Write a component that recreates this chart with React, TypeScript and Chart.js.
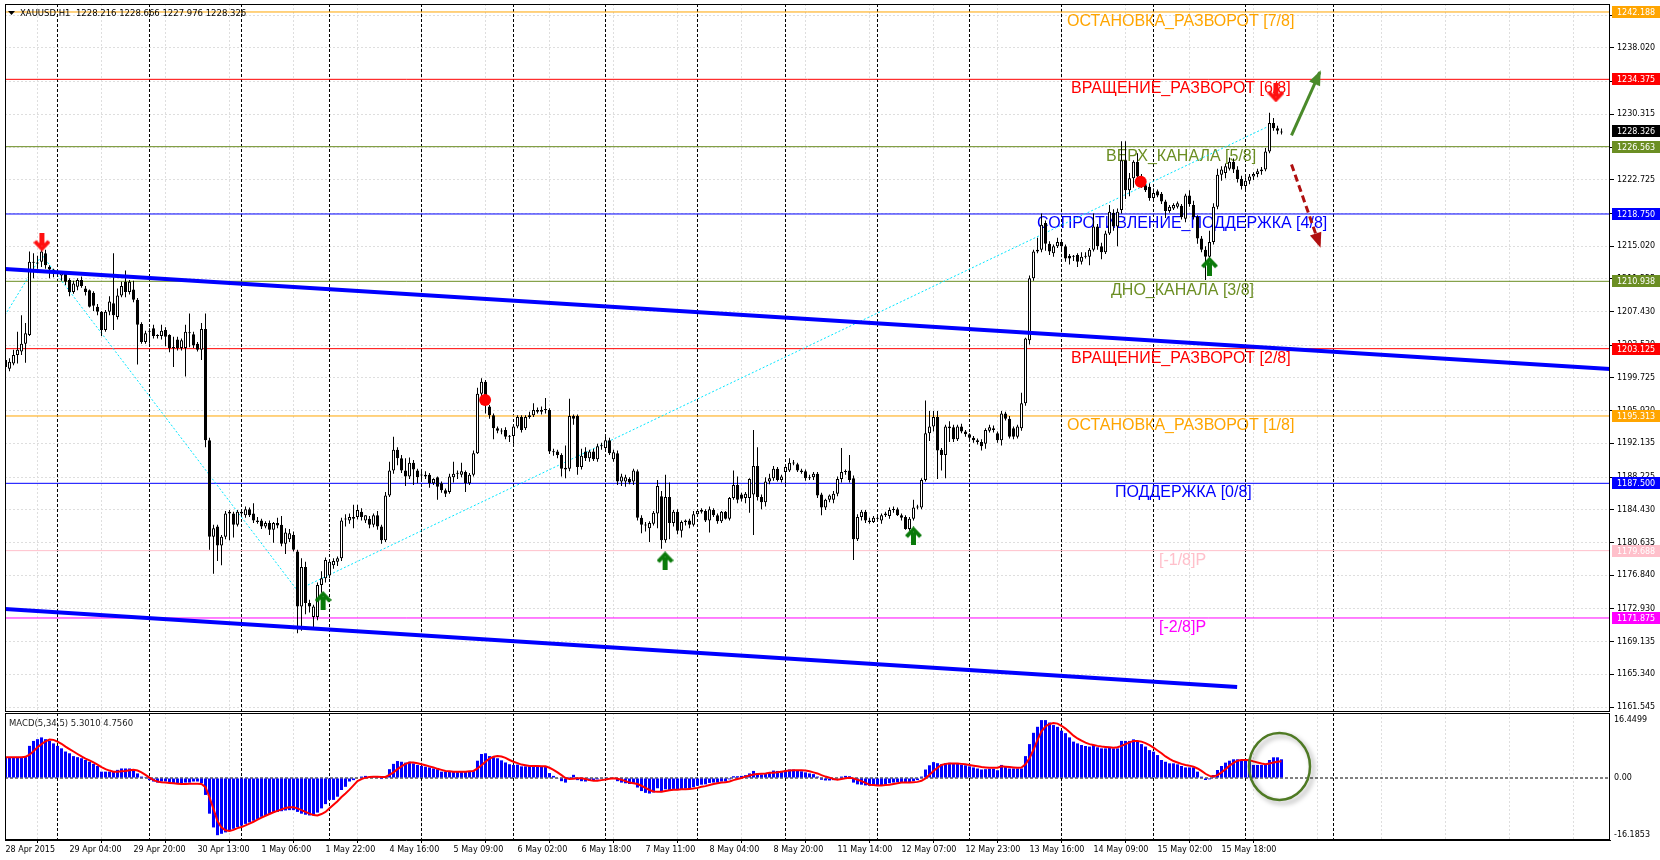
import React, { useEffect, useRef } from "react";
import { Chart, registerables } from "chart.js";

Chart.register(...registerables);

// ---------------- DATA ----------------
// hourly candles [open, high, low, close], one array per trading day
const apr28 = [
  [1201.8,1202.2,1199.8,1201.0],[1200.8,1202.0,1200.5,1201.6],[1201.4,1203.0,1201.2,1202.4],[1202.4,1205.1,1201.4,1203.0],
  [1202.8,1207.0,1202.4,1203.7],[1203.7,1206.1,1201.5,1204.9],[1204.7,1214.4,1204.6,1213.2],[1213.2,1214.2,1211.3,1213.1],
  [1213.1,1213.9,1212.4,1213.0],[1213.2,1214.6,1212.6,1214.4],[1214.2,1214.6,1212.4,1212.8],[1212.6,1212.8,1211.3,1212.3],
  [1212.3,1212.4,1211.4,1212.1],
];
const apr29 = [
  [1212.1,1212.3,1211.5,1211.9],[1211.6,1212.0,1211.0,1211.9],[1211.8,1212.1,1210.5,1210.9],[1211.1,1211.3,1209.2,1209.7],
  [1209.7,1211.0,1209.5,1210.7],[1210.3,1211.3,1209.9,1211.1],[1211.1,1211.5,1210.2,1210.4],[1210.1,1210.4,1209.3,1209.7],
  [1209.9,1210.0,1207.9,1208.0],[1209.6,1209.8,1207.5,1208.1],[1208.0,1208.3,1207.0,1207.4],[1207.4,1207.5,1204.6,1205.3],
  [1205.3,1207.6,1205.1,1207.4],[1207.4,1209.2,1207.0,1208.6],[1208.4,1214.2,1205.3,1207.0],[1206.8,1210.1,1206.5,1209.3],
  [1209.3,1210.9,1209.1,1210.4],[1210.9,1212.2,1209.1,1209.7],[1209.7,1211.1,1209.4,1210.9],[1210.0,1211.0,1208.5,1208.8],
  [1208.8,1209.0,1201.3,1205.9],[1206.0,1206.2,1203.7,1203.9],[1203.9,1205.2,1203.7,1204.9],
];
const apr30 = [
  [1205.1,1205.5,1203.7,1205.2],[1205.5,1205.9,1204.3,1204.6],[1204.6,1204.8,1204.3,1204.6],[1204.6,1205.9,1204.2,1205.2],
  [1205.3,1205.6,1203.4,1204.5],[1204.7,1204.8,1202.7,1203.2],[1203.2,1204.5,1201.0,1203.3],[1204.2,1204.5,1202.9,1203.2],
  [1203.2,1204.3,1202.9,1204.1],[1203.2,1205.9,1199.9,1205.1],[1204.9,1207.2,1203.3,1205.0],[1204.8,1205.1,1203.2,1203.5],
  [1203.7,1203.9,1202.8,1203.0],[1203.0,1206.1,1201.8,1205.4],[1205.4,1207.2,1191.7,1192.5],[1192.5,1192.8,1179.8,1181.3],
  [1181.3,1182.7,1177.0,1182.3],[1182.5,1182.7,1178.5,1180.3],[1180.3,1181.5,1178.0,1181.3],[1181.3,1184.3,1181.0,1184.0],
  [1184.0,1184.4,1180.9,1184.2],[1184.0,1184.2,1181.2,1182.7],[1182.7,1184.4,1182.5,1184.2],
];
const may1 = [
  [1184.2,1184.5,1183.8,1184.0],[1183.8,1184.8,1183.5,1184.5],[1184.5,1184.7,1183.6,1183.8],[1184.0,1185.2,1182.9,1183.2],
  [1183.2,1183.6,1182.8,1183.0],[1183.2,1183.4,1182.2,1182.5],[1182.5,1183.1,1182.3,1182.9],[1182.9,1183.2,1181.5,1182.1],
  [1182.1,1183.0,1180.6,1182.9],[1182.9,1183.5,1182.3,1182.6],[1182.7,1183.7,1180.2,1180.5],[1180.5,1182.3,1179.3,1181.8],
  [1181.0,1182.2,1180.7,1181.7],[1181.5,1181.9,1179.6,1179.8],[1179.6,1179.8,1170.1,1173.2],[1173.2,1178.8,1170.4,1177.8],
  [1177.8,1178.4,1172.3,1173.6],[1173.6,1174.0,1172.5,1173.2],[1172.0,1173.4,1170.8,1173.2],[1172.0,1176.0,1171.6,1175.7],
  [1175.7,1177.3,1174.8,1176.5],[1176.5,1178.9,1176.0,1178.6],
];
const may4 = [
  [1176.8,1178.6,1176.5,1178.4],[1178.0,1178.8,1177.6,1178.5],[1178.4,1179.0,1177.9,1178.8],[1178.8,1183.5,1178.5,1183.2],
  [1183.3,1183.9,1182.5,1183.4],[1183.2,1184.0,1182.8,1183.6],[1183.4,1185.0,1182.3,1183.6],[1183.6,1185.0,1183.3,1184.4],
  [1184.2,1184.6,1183.2,1183.6],[1183.2,1183.8,1182.9,1183.8],[1183.4,1183.7,1182.3,1182.7],[1182.7,1184.0,1182.4,1183.8],
  [1183.8,1184.3,1182.1,1182.5],[1182.5,1182.7,1180.5,1180.9],[1180.9,1186.5,1180.7,1186.1],[1186.1,1190.0,1185.9,1189.0],
  [1189.0,1192.9,1188.6,1191.4],[1191.4,1191.7,1189.6,1190.4],[1190.4,1190.8,1188.7,1189.0],[1189.0,1190.4,1187.2,1188.3],
  [1188.3,1190.5,1188.0,1189.9],[1189.9,1190.2,1187.3,1189.1],[1189.0,1189.2,1187.5,1188.2],
];
const may5 = [
  [1188.4,1188.9,1187.9,1188.5],[1188.5,1188.9,1188.0,1188.3],[1188.5,1188.7,1187.0,1187.5],[1187.5,1188.1,1187.3,1188.0],
  [1188.2,1188.3,1185.6,1187.1],[1187.5,1187.7,1186.4,1186.7],[1186.7,1186.9,1185.9,1186.3],[1186.5,1188.6,1186.3,1188.3],
  [1188.2,1190.0,1187.6,1188.6],[1188.6,1189.0,1188.0,1188.7],[1188.5,1189.9,1188.2,1188.9],[1188.8,1189.0,1186.5,1187.5],
  [1187.5,1188.7,1187.3,1188.5],[1188.5,1191.3,1188.3,1191.0],[1191.0,1198.6,1190.9,1197.9],[1197.9,1199.7,1197.5,1199.3],
  [1199.3,1199.5,1195.6,1196.6],[1196.4,1196.6,1195.0,1195.4],[1195.4,1195.6,1192.6,1193.9],[1193.9,1194.1,1193.3,1193.6],
  [1193.6,1193.9,1193.2,1193.5],[1193.7,1194.0,1192.6,1192.9],[1192.9,1193.1,1192.3,1192.9],
];
const may6 = [
  [1193.0,1194.2,1192.1,1194.1],[1194.1,1195.4,1193.9,1195.2],[1195.2,1195.4,1193.4,1193.7],[1193.9,1195.4,1193.7,1195.2],
  [1195.2,1195.8,1195.0,1195.4],[1195.4,1196.8,1195.2,1196.0],[1196.0,1196.3,1195.6,1195.8],[1195.8,1196.4,1195.5,1196.0],
  [1196.0,1197.4,1195.6,1196.0],[1196.0,1196.2,1190.9,1191.2],[1191.2,1191.5,1190.7,1191.1],[1191.2,1191.4,1190.4,1190.8],
  [1190.8,1191.0,1188.3,1189.2],[1189.1,1191.9,1188.1,1189.3],[1189.2,1197.3,1188.9,1195.3],[1195.3,1195.5,1194.3,1195.0],
  [1195.3,1195.5,1188.5,1189.4],[1189.4,1191.5,1189.1,1190.7],[1191.2,1191.7,1190.1,1190.4],[1190.4,1191.4,1190.0,1191.2],
  [1191.2,1191.5,1190.1,1190.3],[1190.3,1192.1,1190.0,1191.8],[1191.8,1192.2,1191.4,1191.9],
];
const may7 = [
  [1191.6,1192.9,1191.2,1192.5],[1192.5,1192.8,1190.8,1191.0],[1190.3,1191.4,1190.0,1191.1],[1191.0,1191.3,1187.3,1187.7],
  [1187.7,1188.6,1187.2,1188.3],[1187.7,1188.5,1187.1,1188.2],[1188.0,1188.2,1187.4,1187.6],[1187.7,1189.2,1187.3,1189.0],
  [1188.9,1189.1,1183.2,1183.5],[1183.5,1183.8,1181.7,1182.7],[1182.7,1183.0,1181.9,1182.6],[1182.3,1183.1,1180.7,1182.9],
  [1182.8,1184.3,1182.6,1184.1],[1184.0,1187.9,1182.3,1187.2],[1186.0,1186.6,1179.9,1180.9],[1180.9,1188.5,1180.6,1185.9],
  [1185.9,1187.6,1181.0,1182.9],[1182.9,1184.4,1182.5,1184.2],[1184.2,1184.5,1181.6,1182.0],[1182.0,1183.2,1181.2,1183.0],
  [1183.0,1183.3,1182.6,1183.2],[1183.2,1183.4,1182.3,1182.7],[1182.7,1184.3,1182.5,1183.9],
];
const may8 = [
  [1183.9,1184.5,1183.6,1184.3],[1184.2,1184.6,1184.0,1184.4],[1184.3,1184.5,1183.0,1183.2],[1183.2,1184.8,1181.8,1184.5],
  [1184.4,1184.6,1183.6,1183.8],[1183.8,1184.0,1182.8,1183.1],[1183.1,1184.3,1182.9,1184.2],[1184.2,1184.3,1183.3,1183.4],
  [1183.4,1185.9,1183.2,1185.8],[1185.8,1189.0,1185.6,1187.3],[1187.3,1188.3,1185.2,1185.6],[1186.2,1186.4,1185.4,1185.7],
  [1185.8,1186.5,1185.2,1186.3],[1185.8,1188.1,1184.1,1188.0],[1186.2,1193.7,1181.5,1189.5],[1189.5,1191.7,1185.5,1185.9],
  [1185.9,1186.2,1184.5,1185.3],[1185.3,1188.2,1184.8,1187.7],[1187.7,1188.6,1187.4,1188.1],[1188.1,1189.5,1187.8,1189.2],
  [1189.2,1189.4,1187.7,1187.9],[1187.9,1188.5,1187.6,1188.3],
];
const may11 = [
  [1188.8,1189.6,1187.5,1189.4],[1189.0,1190.4,1188.8,1189.9],[1189.9,1190.2,1189.6,1189.8],[1189.7,1189.9,1188.8,1189.0],
  [1189.0,1189.2,1188.6,1188.8],[1188.9,1189.1,1187.8,1188.1],[1188.1,1188.5,1187.9,1188.2],[1188.2,1188.8,1187.9,1188.6],
  [1188.6,1188.8,1185.8,1186.1],[1186.2,1186.4,1183.8,1184.7],[1184.7,1185.7,1184.4,1185.6],[1185.6,1186.2,1185.3,1186.1],
  [1185.6,1186.6,1185.2,1186.3],[1186.3,1188.3,1186.0,1188.0],[1188.0,1191.6,1187.6,1188.8],[1188.8,1189.1,1188.5,1188.9],
  [1189.0,1190.8,1187.6,1187.9],[1188.1,1188.4,1178.6,1181.0],[1181.0,1183.9,1180.8,1183.6],[1183.6,1184.4,1183.2,1184.2],
  [1184.2,1184.4,1182.9,1183.2],[1183.2,1183.5,1182.8,1183.0],[1183.0,1183.7,1182.9,1183.5],
];
const may12 = [
  [1183.4,1183.8,1183.1,1183.4],[1183.2,1184.0,1182.8,1183.8],[1183.8,1184.2,1183.6,1184.0],[1183.7,1184.7,1183.4,1184.4],
  [1184.4,1184.8,1184.1,1184.5],[1184.5,1184.7,1183.7,1183.8],[1183.8,1184.0,1183.2,1183.5],[1183.6,1183.8,1182.1,1182.2],
  [1182.2,1183.6,1182.0,1183.4],[1183.4,1185.6,1183.2,1184.7],[1184.7,1185.0,1184.5,1184.8],[1184.7,1188.1,1184.5,1187.9],
  [1187.9,1197.1,1187.7,1193.3],[1193.3,1195.9,1192.4,1194.1],[1194.1,1195.9,1193.5,1195.2],[1195.2,1195.9,1188.0,1191.3],
  [1191.4,1191.6,1189.0,1190.8],[1190.8,1194.3,1188.1,1194.1],[1194.1,1194.7,1192.3,1193.9],[1194.0,1194.3,1192.3,1192.6],
  [1192.6,1194.3,1192.4,1194.1],[1194.1,1194.4,1193.3,1193.5],[1193.5,1193.7,1192.9,1193.2],
];
const may13 = [
  [1193.2,1193.3,1192.6,1192.8],[1192.8,1193.0,1192.2,1192.5],[1192.5,1192.7,1192.0,1192.3],[1192.3,1192.6,1191.3,1191.8],
  [1192.1,1193.9,1191.5,1193.7],[1193.6,1194.3,1193.4,1194.0],[1193.9,1194.2,1193.4,1193.7],[1193.3,1193.5,1192.2,1192.5],
  [1192.5,1195.9,1191.9,1195.6],[1195.6,1195.8,1194.8,1195.0],[1195.0,1195.3,1192.7,1192.9],[1193.9,1194.1,1192.6,1192.9],
  [1192.9,1194.3,1192.7,1194.1],[1193.9,1198.0,1193.6,1196.8],[1196.8,1204.4,1196.5,1204.3],[1204.1,1211.6,1203.6,1211.3],
  [1211.3,1214.6,1211.0,1214.4],[1214.4,1216.0,1214.2,1214.6],[1214.6,1218.8,1214.3,1217.5],[1217.7,1218.0,1214.5,1215.3],
  [1215.3,1215.6,1214.0,1214.4],[1214.2,1215.2,1213.8,1215.0],[1215.0,1216.0,1214.8,1215.5],
];
const may14 = [
  [1215.5,1215.8,1214.6,1215.0],[1215.0,1215.2,1213.2,1213.6],[1213.9,1214.1,1212.9,1213.6],[1213.8,1214.0,1213.3,1213.9],
  [1214.0,1214.2,1212.6,1213.2],[1213.2,1214.3,1212.9,1213.8],[1213.8,1214.3,1213.6,1213.9],[1213.8,1214.8,1212.8,1214.6],
  [1214.6,1218.8,1214.4,1217.3],[1217.3,1217.6,1214.6,1215.0],[1215.0,1215.4,1213.5,1214.3],[1214.3,1216.8,1214.1,1216.5],
  [1216.5,1219.8,1216.3,1219.0],[1218.9,1219.3,1216.8,1217.3],[1217.3,1219.4,1215.0,1219.0],[1219.2,1227.2,1218.8,1225.0],
  [1225.0,1227.2,1220.5,1221.5],[1221.5,1223.5,1220.8,1222.9],[1222.9,1225.0,1221.8,1224.8],[1224.8,1225.8,1222.8,1223.1],
  [1223.1,1223.4,1221.8,1222.1],[1222.1,1222.4,1221.3,1221.5],[1221.9,1222.3,1220.3,1220.6],
];
const may15 = [
  [1220.6,1221.7,1220.4,1221.2],[1221.4,1221.6,1220.7,1220.9],[1221.1,1221.3,1219.9,1220.2],[1220.2,1220.4,1218.3,1219.1],
  [1219.1,1219.8,1218.9,1219.6],[1219.4,1220.0,1219.2,1219.8],[1219.6,1220.2,1219.4,1220.0],[1219.7,1219.9,1218.1,1218.4],
  [1218.2,1221.1,1217.8,1220.9],[1220.9,1221.5,1219.6,1219.9],[1219.8,1220.3,1218.1,1218.4],[1218.4,1218.6,1215.3,1215.9],
  [1215.9,1216.2,1214.3,1214.6],[1214.6,1215.0,1211.1,1213.8],[1213.8,1216.8,1213.6,1215.5],[1215.5,1220.0,1215.2,1219.6],
  [1219.6,1224.0,1219.3,1223.3],[1223.3,1224.3,1222.6,1223.9],[1223.5,1224.6,1222.9,1224.3],[1224.0,1225.3,1223.8,1224.8],
  [1224.8,1225.2,1223.5,1223.9],[1223.9,1224.3,1222.4,1222.8],[1222.8,1223.2,1221.6,1222.0],
];
const may18 = [
  [1222.0,1223.0,1221.5,1222.6],[1222.6,1223.4,1222.2,1223.1],[1223.1,1223.6,1222.7,1223.4],[1223.4,1224.0,1223.0,1223.7],
  [1223.7,1224.2,1223.3,1223.9],[1223.9,1226.4,1223.7,1226.0],[1226.0,1230.5,1225.8,1229.3],[1229.3,1229.9,1228.4,1228.7],
  [1228.7,1229.0,1228.0,1228.4],[1228.216,1228.666,1227.976,1228.326],
];

// MACD(5,34,5) main (histogram) and signal, read per bar
const macdHistA = [
  5.9,5.9,5.8,5.8,5.9,6.0,9.1,10.5,11.0,11.5, 11.0,10.5,9.8,9.1,8.4,7.5,7.0,6.2,5.9,5.6,
  5.1,4.6,4.0,3.4,1.8,1.8,1.8,1.8,2.3,2.7, 2.7,2.7,2.3,1.3,0.4,0.05,-0.6,-1.0,-1.3,-1.0,
  -1.0,-1.3,-1.7,-1.7,-1.7,-1.3,-1.3,-1.0,-1.0,-1.5, -4.8,-10.1,-14.0,-16.2,-15.8,-15.4,-14.9,-14.4,-13.9,-13.5,
  -13.0,-12.6,-12.1,-11.6,-11.0,-10.6,-10.2,-9.9,-9.6,-9.4, -9.2,-9.1,-9.1,-9.6,-10.1,-10.4,-10.6,-10.6,-9.8,-8.6,
];
const macdHistB = [
  -7.4,-6.2,-6.2,-5.3,-3.4,-2.5,-1.0,-0.6,0.0,0.4, 0.6,0.4,0.4,0.4,-0.3,0.4,2.5,4.0,4.8,4.6,
  4.35,4.6,4.15,3.7,3.4,3.2,3.0,2.7,2.5,1.8, 1.8,1.8,1.8,1.8,1.8,1.8,1.8,2.1,4.9,6.8,
  7.0,6.2,5.9,5.6,5.0,4.4,3.9,3.7,3.8,3.3, 3.3,3.3,3.4,3.3,3.2,3.1,1.4,0.6,-0.1,-0.9,
  -1.3,0.3,0.9,-0.6,-0.9,-1.0,-0.8,-0.8,-0.4,-0.1, 0.2,0.0,0.0,-0.9,-1.3,-1.5,-1.7,-1.4,-2.7,-3.7,
];
const macdHistC = [
  -4.2,-4.4,-4.1,-2.9,-4.0,-3.2,-3.4,-3.1,-3.3,-3.2, -3.0,-2.9,-2.6,-2.2,-1.9,-1.8,-1.4,-1.3,-1.3,-1.0,
  -1.0,-0.4,0.5,0.5,0.6,0.8,1.3,2.0,1.4,1.0, 1.4,1.7,2.1,2.0,2.0,2.2,2.4,2.4,2.2,1.9,
  1.6,1.3,1.1,0.4,-0.5,-0.7,-0.7,-0.6,-0.1,0.4, 0.6,0.5,-1.3,-1.8,-1.9,-2.1,-2.2,-2.2,-2.1,-2.0,
  -1.8,-1.5,-1.3,-1.2,-1.2,-1.4,-1.3,-0.9,-0.6,0.4, 2.4,3.6,4.5,4.2,3.9,4.2,4.3,4.0,4.0,3.8,
];
const macdHistD = [
  3.6,3.3,3.0,2.7,2.4,2.5,2.6,2.6,2.2,3.7, 3.2,2.7,2.7,2.7,2.7,6.2,9.6,12.8,14.5,16.4,
  16.4,15.7,15.0,14.5,13.4,12.7,11.5,10.3,9.8,9.35, 9.07,8.9,9.35,8.7,8.4,8.4,8.7,8.4,8.4,10.5,
  10.5,10.5,10.95,10.5,9.6,8.9,7.9,7.46,6.5,5.1, 4.6,4.15,4.15,3.87,3.4,3.0,3.0,3.0,1.8,0.38,
  -0.57,-0.38,0.85,2.27,3.4,4.35,4.9,5.3,5.3,5.1, 5.1,4.9,3.7,3.7,3.7,3.7,5.1,5.86,5.86,5.301,
];
const macdSignalA = [
  5.9,5.9,5.9,5.9,5.9,6.0,6.6,7.6,8.7,9.6, 10.4,10.9,10.8,10.3,9.7,8.9,8.2,7.5,6.8,6.1,
  5.5,5.0,4.4,3.8,3.1,2.5,2.1,1.8,1.8,1.9, 2.0,2.2,2.3,2.1,1.6,0.9,0.1,-0.6,-1.0,-1.2,
  -1.3,-1.4,-1.5,-1.6,-1.7,-1.7,-1.6,-1.6,-1.6,-1.7, -2.6,-5.5,-8.8,-12.2,-14.0,-14.8,-15.0,-14.7,-14.2,-13.9,
  -13.4,-12.9,-12.4,-11.8,-11.2,-10.7,-10.2,-9.7,-9.3,-8.9, -8.5,-8.3,-8.3,-8.6,-9.1,-9.6,-10.1,-10.5,-10.6,-10.2,
];
const macdSignalB = [
  -9.6,-8.6,-7.6,-6.6,-5.4,-4.4,-3.3,-2.1,-0.9,-0.3, 0.1,0.3,0.35,0.38,0.3,0.3,0.9,1.6,2.5,3.3,
  4.0,4.4,4.4,4.2,3.9,3.6,3.3,3.0,2.6,2.3, 2.0,1.9,1.8,1.8,1.8,1.8,1.9,2.0,2.7,3.6,
  4.6,5.5,6.0,6.2,6.1,5.7,5.1,4.6,4.2,3.8, 3.6,3.4,3.4,3.4,3.3,3.3,2.9,2.3,1.6,0.8,
  0.0,-0.3,-0.2,-0.1,-0.1,-0.3,-0.6,-0.8,-0.8,-0.6, -0.4,-0.2,-0.1,-0.2,-0.5,-0.9,-1.3,-1.5,-1.7,-2.2,
];
const macdSignalC = [
  -2.8,-3.4,-3.8,-3.9,-3.9,-3.7,-3.5,-3.3,-3.3,-3.2, -3.2,-3.1,-3.0,-2.8,-2.5,-2.3,-2.0,-1.7,-1.5,-1.3,
  -1.2,-1.0,-0.6,-0.3,0.0,0.4,0.7,1.0,1.1,1.2, 1.3,1.5,1.5,1.6,1.8,2.0,2.1,2.2,2.2,2.2,
  2.1,1.9,1.6,1.3,0.8,0.4,0.1,-0.3,-0.5,-0.3, -0.1,0.1,-0.1,-0.5,-0.9,-1.4,-1.9,-2.0,-2.1,-2.1,
  -2.0,-1.9,-1.7,-1.5,-1.3,-1.3,-1.3,-1.2,-1.1,-0.8, -0.1,0.9,2.0,2.9,3.7,4.0,4.1,4.1,4.1,4.0,
];
const macdSignalD = [
  3.9,3.7,3.5,3.3,3.1,3.0,2.9,2.9,2.9,3.3, 3.2,3.1,3.0,2.9,3.0,3.9,5.6,8.0,10.8,13.2,
  14.6,15.3,15.6,15.4,14.8,14.0,13.0,12.0,11.2,10.6, 10.0,9.6,9.35,9.1,8.9,8.8,8.7,8.6,8.7,9.1,
  9.6,10.1,10.5,10.5,10.3,9.9,9.3,8.6,7.8,7.0, 6.1,5.4,4.8,4.4,4.0,3.7,3.5,3.2,2.7,2.0,
  1.2,0.6,0.4,0.8,1.6,2.5,3.5,4.3,4.9,5.1, 5.1,5.0,4.7,4.4,4.1,3.9,4.1,4.4,4.6,4.756,
];

const timeLabels = [
  "28 Apr 2015","29 Apr 04:00","29 Apr 20:00","30 Apr 13:00","1 May 06:00","1 May 22:00","4 May 16:00",
  "5 May 09:00","6 May 02:00","6 May 18:00","7 May 11:00","8 May 04:00","8 May 20:00","11 May 14:00",
  "12 May 07:00","12 May 23:00","13 May 16:00","14 May 09:00","15 May 02:00","15 May 18:00",
];
const daySeparatorBars = [13, 36, 59, 81, 104, 127, 150, 173, 195, 218, 241, 264, 287, 310, 332];
const priceTicks = [
  1161.545,1165.340,1169.135,1172.930,1176.840,1180.635,1184.430,1188.225,1192.135,1195.920,1199.725,
  1203.530,1207.430,1211.225,1215.020,1218.830,1222.725,1226.520,1230.315,1234.110,1238.020,1241.815,
];
const levelValues = [1242.188,1234.375,1226.563,1218.750,1210.938,1203.125,1195.313,1187.500,1179.688,1171.875];
const levelNames = [
  "ОСТАНОВКА_РАЗВОРОТ [7/8]","ВРАЩЕНИЕ_РАЗВОРОТ [6/8]","ВЕРХ_КАНАЛА [5/8]","СОПРОТИВЛЕНИЕ_ПОДДЕРЖКА [4/8]",
  "ДНО_КАНАЛА [3/8]","ВРАЩЕНИЕ_РАЗВОРОТ [2/8]","ОСТАНОВКА_РАЗВОРОТ [1/8]","ПОДДЕРЖКА [0/8]","[-1/8]P","[-2/8]P",
];
const currentPrice = 1228.326;
const headerText = "XAUUSD,H1  1228.216 1228.666 1227.976 1228.326";
const macdTitle = "MACD(5,34,5) 5.3010 4.7560";
const macdTicks = [16.4499, 0, -16.1853];
const macdTickLabels = ["16.4499", "0.00", "-16.1853"];

// chart objects (bar index, price)
const upperTrendBars = [-0.125, 401.125];
const upperTrendPrices = [1212.37, 1200.77];
const lowerTrendBars = [-0.125, 307.9];
const lowerTrendPrices = [1172.92, 1163.87];
const zigzagBars = [-0.125, 9.1, 72.9, 316.4];
const zigzagPrices = [1207.0, 1214.0, 1175.1, 1229.07];
const sellArrowBars = [9.1, 317.6];
const sellArrowPrices = [1215.5, 1232.8];
const buyArrowBars = [79.4, 164.9, 227.0, 301.0];
const buyArrowPrices = [1173.9, 1178.5, 1181.4, 1212.7];
const dotBars = [119.9, 283.8];
const dotPrices = [1197.17, 1222.5];
const upArrowBars = [321.5, 328.6];
const upArrowPrices = [1227.86, 1235.22];
const downArrowBars = [321.5, 328.6];
const downArrowPrices = [1224.5, 1215.05];
const ellipseBar = 318.5;
const ellipseValue = 3.26;

// ---------------- STYLE / LAYOUT ----------------
const X_MIN = -0.125;
const X_MAX = 401.125;
const PRICE_MIN = 1160.967;
const PRICE_MAX = 1243.116;
const MACD_MIN = -17.56;
const MACD_MAX = 18.41;
const LABEL_STEP = 16;
const GRID_START = 8;
const levelColors = ["#ffa500","#ff0000","#6b8e23","#0000ff","#6b8e23","#ff0000","#ffa500","#0000ff","#ffc0cb","#ff00ff"];
const levelLabelX = [1067, 1071, 1106, 1037, 1111, 1071, 1067, 1115, 1159, 1159];
const SMALL_FONT = '8px "DejaVu Sans", sans-serif';
const TITLE_FONT = '8.5px "DejaVu Sans", sans-serif';
const LEVEL_FONT = '16px "Liberation Sans", Arial, sans-serif';

const candles = [
  ...apr28, ...apr29, ...apr30, ...may1, ...may4, ...may5, ...may6, ...may7,
  ...may8, ...may11, ...may12, ...may13, ...may14, ...may15, ...may18,
];
const macdHist = [...macdHistA, ...macdHistB, ...macdHistC, ...macdHistD];
const macdSignal = [...macdSignalA, ...macdSignalB, ...macdSignalC, ...macdSignalD];

function pts(xs: number[], ys: number[]) {
  return xs.map((x, i) => ({ x, y: ys[i] }));
}

function makeArrow(color: string, up: boolean) {
  const c = document.createElement("canvas");
  c.width = 17;
  c.height = 19;
  const g = c.getContext("2d")!;
  g.fillStyle = color;
  if (!up) {
    g.translate(0, 19);
    g.scale(1, -1);
  }
  g.fillRect(6, 6, 5, 13);
  g.beginPath();
  g.moveTo(8.5, 0);
  g.lineTo(17, 9);
  g.lineTo(14, 11.5);
  g.lineTo(8.5, 5.5);
  g.lineTo(3, 11.5);
  g.lineTo(0, 9);
  g.closePath();
  g.fill();
  return c;
}

function drawVerticalGrid(chart: any) {
  const { ctx, chartArea: a, scales } = chart;
  const xs = scales.x;
  ctx.save();
  ctx.beginPath();
  ctx.rect(a.left, a.top, a.right - a.left, a.bottom - a.top);
  ctx.clip();
  ctx.lineWidth = 1;
  ctx.strokeStyle = "#dedede";
  ctx.setLineDash([2, 2]);
  for (let b = GRID_START; b < X_MAX; b += LABEL_STEP) {
    const px = Math.floor(xs.getPixelForValue(b)) + 0.5;
    ctx.beginPath();
    ctx.moveTo(px, a.top);
    ctx.lineTo(px, a.bottom);
    ctx.stroke();
  }
  ctx.strokeStyle = "#000";
  ctx.setLineDash([3, 2]);
  for (const b of daySeparatorBars) {
    const px = Math.floor(xs.getPixelForValue(b)) + 0.5;
    ctx.beginPath();
    ctx.moveTo(px, a.top);
    ctx.lineTo(px, a.bottom);
    ctx.stroke();
  }
  ctx.restore();
}

function drawBorder(chart: any) {
  const { ctx, chartArea: a } = chart;
  ctx.save();
  ctx.strokeStyle = "#000";
  ctx.lineWidth = 1;
  ctx.setLineDash([]);
  ctx.strokeRect(Math.round(a.left) + 0.5, Math.round(a.top) + 0.5, Math.round(a.right - a.left) - 1, Math.round(a.bottom - a.top) - 1);
  ctx.restore();
}

function drawHead(ctx: any, x0: number, y0: number, x1: number, y1: number, color: string) {
  const ang = Math.atan2(y1 - y0, x1 - x0);
  const len = 13;
  const half = 6;
  const bx = x1 - len * Math.cos(ang);
  const by = y1 - len * Math.sin(ang);
  ctx.fillStyle = color;
  ctx.beginPath();
  ctx.moveTo(x1 + 2 * Math.cos(ang), y1 + 2 * Math.sin(ang));
  ctx.lineTo(bx + half * Math.sin(ang), by - half * Math.cos(ang));
  ctx.lineTo(bx - half * Math.sin(ang), by + half * Math.cos(ang));
  ctx.closePath();
  ctx.fill();
}

const mainPlugin = {
  id: "mtMain",
  beforeDatasetsDraw(chart: any) {
    const { ctx, chartArea: a, scales } = chart;
    const ys = scales.y;
    ctx.save();
    ctx.lineWidth = 1;
    ctx.strokeStyle = "#dedede";
    ctx.setLineDash([2, 2]);
    for (const v of priceTicks) {
      const py = Math.floor(ys.getPixelForValue(v)) + 0.5;
      if (py < a.top || py > a.bottom) continue;
      ctx.beginPath();
      ctx.moveTo(a.left, py);
      ctx.lineTo(a.right, py);
      ctx.stroke();
    }
    ctx.restore();
    drawVerticalGrid(chart);
    ctx.save();
    ctx.font = LEVEL_FONT;
    ctx.textBaseline = "alphabetic";
    ctx.textAlign = "left";
    levelValues.forEach((v, k) => {
      const py = ys.getPixelForValue(v);
      ctx.fillStyle = levelColors[k];
      ctx.fillText(levelNames[k], levelLabelX[k], py + 14);
    });
    ctx.restore();
  },
  afterDatasetsDraw(chart: any) {
    const { ctx, scales } = chart;
    const xs = scales.x;
    const ys = scales.y;
    ctx.save();
    drawHead(
      ctx,
      xs.getPixelForValue(upArrowBars[0]), ys.getPixelForValue(upArrowPrices[0]),
      xs.getPixelForValue(upArrowBars[1]), ys.getPixelForValue(upArrowPrices[1]),
      "#4a8a2a"
    );
    drawHead(
      ctx,
      xs.getPixelForValue(downArrowBars[0]), ys.getPixelForValue(downArrowPrices[0]),
      xs.getPixelForValue(downArrowBars[1]), ys.getPixelForValue(downArrowPrices[1]),
      "#b01010"
    );
    ctx.restore();
  },
  afterDraw(chart: any) {
    const { ctx, chartArea: a, scales } = chart;
    const ys = scales.y;
    drawBorder(chart);
    ctx.save();
    ctx.font = SMALL_FONT;
    ctx.textBaseline = "middle";
    ctx.textAlign = "left";
    const box = (v: number, bg: string) => {
      const py = Math.round(ys.getPixelForValue(v));
      ctx.fillStyle = bg;
      ctx.fillRect(a.right + 2, py - 6, 48, 12);
      ctx.fillStyle = "#fff";
      ctx.fillText(v.toFixed(3), a.right + 7, py + 0.5);
    };
    levelValues.forEach((v, k) => box(v, levelColors[k]));
    box(currentPrice, "#000");
    // header
    ctx.font = TITLE_FONT;
    ctx.fillStyle = "#000";
    ctx.beginPath();
    ctx.moveTo(8, 11);
    ctx.lineTo(15, 11);
    ctx.lineTo(11.5, 15);
    ctx.closePath();
    ctx.fill();
    ctx.fillText(headerText, 20, 13.5);
    ctx.restore();
  },
};

const macdPlugin = {
  id: "mtMacd",
  beforeDatasetsDraw(chart: any) {
    drawVerticalGrid(chart);
  },
  afterDatasetsDraw(chart: any) {
    const { ctx, scales } = chart;
    const px = scales.x.getPixelForValue(ellipseBar);
    const py = scales.y.getPixelForValue(ellipseValue);
    ctx.save();
    ctx.shadowColor = "rgba(0,0,0,0.35)";
    ctx.shadowBlur = 5;
    ctx.shadowOffsetX = 3;
    ctx.shadowOffsetY = 3;
    ctx.strokeStyle = "#4f7a24";
    ctx.lineWidth = 2.5;
    ctx.beginPath();
    ctx.ellipse(px, py, 30.5, 33.5, 0, 0, Math.PI * 2);
    ctx.stroke();
    ctx.restore();
  },
  afterDraw(chart: any) {
    const { ctx, chartArea: a } = chart;
    drawBorder(chart);
    ctx.save();
    ctx.font = TITLE_FONT;
    ctx.fillStyle = "#222";
    ctx.textBaseline = "middle";
    ctx.fillText(macdTitle, a.left + 4, a.top + 10.5);
    ctx.restore();
  },
};

export default function App() {
  const mainRef = useRef<HTMLCanvasElement>(null);
  const macdRef = useRef<HTMLCanvasElement>(null);

  useEffect(() => {
    const sell = makeArrow("#ff1010", false);
    const buy = makeArrow("#0a7a0a", true);

    const levelSets = levelValues.map((v, k) => ({
      type: "line",
      data: pts([X_MIN, X_MAX], [v, v]),
      borderColor: levelColors[k],
      borderWidth: 1,
      pointRadius: 0,
      order: 30,
    }));

    const main = new Chart(mainRef.current as HTMLCanvasElement, {
      type: "bar",
      data: {
        datasets: [
          ...levelSets,
          {
            type: "line",
            data: pts(zigzagBars, zigzagPrices),
            borderColor: "#00e5ff",
            borderWidth: 1,
            borderDash: [2, 2],
            pointRadius: 0,
            order: 25,
          },
          {
            type: "bar",
            data: candles.map((c, i) => ({ x: i, y: [c[2], c[1]] })),
            backgroundColor: "#000",
            borderWidth: 0,
            barThickness: 1,
            grouped: false,
            inflateAmount: 0,
            order: 20,
          },
          {
            type: "bar",
            data: candles.map((c, i) => ({ x: i, y: [c[0], c[3]] })),
            backgroundColor: candles.map((c) => (c[3] >= c[0] ? "#ffffff" : "#000000")),
            borderColor: "#000",
            borderWidth: 1,
            borderSkipped: false,
            barThickness: 3,
            minBarLength: 1,
            grouped: false,
            inflateAmount: 0,
            order: 19,
          },
          {
            type: "line",
            data: pts(upperTrendBars, upperTrendPrices),
            borderColor: "#0000ff",
            borderWidth: 4,
            pointRadius: 0,
            order: 10,
          },
          {
            type: "line",
            data: pts(lowerTrendBars, lowerTrendPrices),
            borderColor: "#0000ff",
            borderWidth: 4,
            pointRadius: 0,
            order: 10,
          },
          {
            type: "line",
            data: pts(upArrowBars, upArrowPrices),
            borderColor: "#4a8a2a",
            borderWidth: 3,
            pointRadius: 0,
            order: 8,
          },
          {
            type: "line",
            data: pts(downArrowBars, downArrowPrices),
            borderColor: "#b01010",
            borderWidth: 3,
            borderDash: [7, 4],
            pointRadius: 0,
            order: 8,
          },
          {
            type: "line",
            data: pts(dotBars, dotPrices),
            showLine: false,
            pointRadius: 6,
            pointBackgroundColor: "#ff0000",
            pointBorderWidth: 0,
            order: 5,
          },
          {
            type: "line",
            data: pts(sellArrowBars, sellArrowPrices),
            showLine: false,
            pointStyle: sell,
            pointRadius: 9,
            order: 4,
          },
          {
            type: "line",
            data: pts(buyArrowBars, buyArrowPrices),
            showLine: false,
            pointStyle: buy,
            pointRadius: 9,
            order: 4,
          },
        ] as any,
      },
      options: {
        responsive: false,
        animation: false,
        devicePixelRatio: 1,
        events: [],
        layout: { autoPadding: false, padding: { left: 5, top: 4, right: 0, bottom: 1 } },
        plugins: { legend: { display: false }, tooltip: { enabled: false } },
        scales: {
          x: { type: "linear", min: X_MIN, max: X_MAX, display: false, offset: false },
          y: {
            type: "linear",
            position: "right",
            min: PRICE_MIN,
            max: PRICE_MAX,
            afterBuildTicks: (s: any) => {
              s.ticks = priceTicks.map((v) => ({ value: v }));
            },
            afterFit: (s: any) => {
              s.width = 50;
              s.paddingTop = 0;
              s.paddingBottom = 0;
            },
            ticks: {
              autoSkip: false,
              color: "#000",
              padding: 3,
              font: { family: "DejaVu Sans", size: 8 },
              callback: (v: any) => Number(v).toFixed(3),
            },
            grid: { drawOnChartArea: false, drawTicks: true, tickLength: 4, tickColor: "#000" },
            border: { display: false },
          },
        },
      } as any,
      plugins: [mainPlugin],
    });

    const macd = new Chart(macdRef.current as HTMLCanvasElement, {
      type: "bar",
      data: {
        datasets: [
          {
            type: "line",
            data: pts([X_MIN, X_MAX], [0, 0]),
            borderColor: "#000",
            borderWidth: 1,
            borderDash: [3, 2],
            pointRadius: 0,
            order: 30,
          },
          {
            type: "bar",
            data: macdHist.map((v, i) => ({ x: i, y: v })),
            backgroundColor: "#0000ff",
            borderWidth: 0,
            barThickness: 3,
            grouped: false,
            inflateAmount: 0,
            order: 20,
          },
          {
            type: "line",
            data: macdSignal.map((v, i) => ({ x: i, y: v })),
            borderColor: "#ff0000",
            borderWidth: 2,
            pointRadius: 0,
            tension: 0,
            order: 10,
          },
        ] as any,
      },
      options: {
        responsive: false,
        animation: false,
        devicePixelRatio: 1,
        events: [],
        layout: { autoPadding: false, padding: { left: 5, top: 0, right: 0, bottom: 0 } },
        plugins: { legend: { display: false }, tooltip: { enabled: false } },
        scales: {
          x: {
            type: "linear",
            position: "bottom",
            min: X_MIN,
            max: X_MAX,
            offset: false,
            afterBuildTicks: (s: any) => {
              s.ticks = timeLabels.map((_, k) => ({ value: k * LABEL_STEP }));
            },
            afterFit: (s: any) => {
              s.height = 20;
              s.paddingLeft = 0;
              s.paddingRight = 0;
            },
            ticks: {
              autoSkip: false,
              maxRotation: 0,
              minRotation: 0,
              align: "start",
              padding: 2,
              color: "#000",
              font: { family: "DejaVu Sans", size: 8 },
              callback: (v: any) => timeLabels[Math.round(Number(v) / LABEL_STEP)] ?? "",
            },
            grid: { drawOnChartArea: false, drawTicks: true, tickLength: 3, tickColor: "#000" },
            border: { display: true, color: "#000" },
          },
          y: {
            type: "linear",
            position: "right",
            min: MACD_MIN,
            max: MACD_MAX,
            afterBuildTicks: (s: any) => {
              s.ticks = macdTicks.map((v) => ({ value: v }));
            },
            afterFit: (s: any) => {
              s.width = 50;
              s.paddingTop = 0;
              s.paddingBottom = 0;
            },
            ticks: {
              autoSkip: false,
              color: "#000",
              padding: 4,
              font: { family: "DejaVu Sans", size: 8 },
              callback: (v: any) => {
                const k = macdTicks.indexOf(Number(v));
                return k >= 0 ? macdTickLabels[k] : "";
              },
            },
            grid: { drawOnChartArea: false, drawTicks: false },
            border: { display: false },
          },
        },
      } as any,
      plugins: [macdPlugin],
    });

    return () => {
      main.destroy();
      macd.destroy();
    };
  }, []);

  return (
    <div style={{ position: "absolute", left: 0, top: 0, width: 1660, height: 860, background: "#fff" }}>
      <canvas
        ref={mainRef}
        width={1660}
        height={713}
        style={{ position: "absolute", left: 0, top: 0, width: 1660, height: 713 }}
      />
      <canvas
        ref={macdRef}
        width={1660}
        height={147}
        style={{ position: "absolute", left: 0, top: 713, width: 1660, height: 147 }}
      />
    </div>
  );
}
